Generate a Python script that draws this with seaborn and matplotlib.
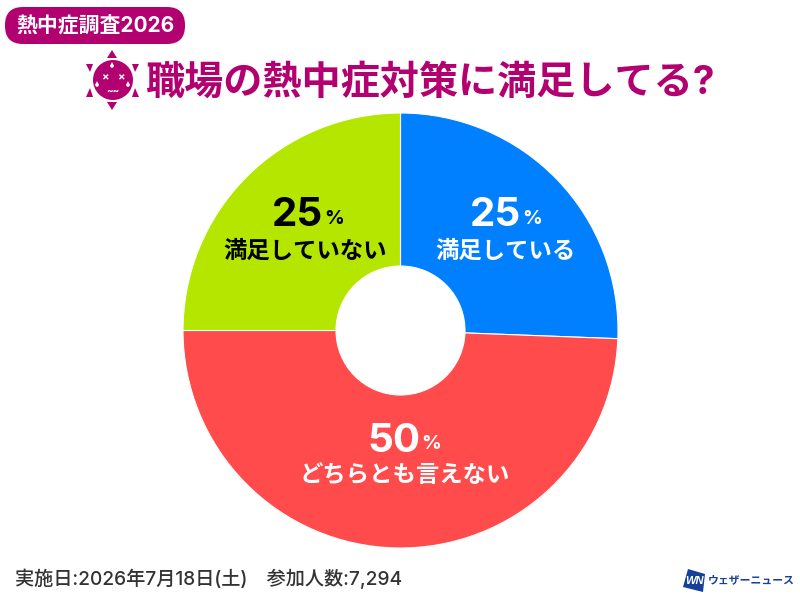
import matplotlib
matplotlib.use('Agg')
import matplotlib.pyplot as plt
import seaborn as sns
from matplotlib.patches import Circle, FancyBboxPatch, Polygon

# 調査結果
labels = ['満足している', 'どちらとも言えない', '満足していない']
shares = [25.6, 49.4, 25.0]
percent_labels = ['25', '50', '25']
colors = ['#0080ff', '#ff4b4b', '#b4e600']
label_colors = ['white', 'white', 'black']

badge_text = '熱中症調査2026'
title_text = '職場の熱中症対策に満足してる?'
footer_text = '実施日:2026年7月18日(土)\u3000参加人数:7,294'
brand_text = 'ウェザーニュース'

MAGENTA = '#b20070'
NAVY = '#17409a'
LATIN_CJK = ['Inter', 'Noto Sans CJK JP', 'DejaVu Sans']

sns.set_theme(style='white')
plt.rcParams['font.family'] = ['Noto Sans CJK JP', 'DejaVu Sans']

fig = plt.figure(figsize=(8, 6), dpi=100)
ax = fig.add_axes([0, 0, 1, 1])

# ドーナツ
ax.pie(shares, colors=sns.color_palette(colors), startangle=90, counterclock=False,
       center=(400.5, 269.5), radius=217.5, frame=True,
       wedgeprops={'width': 153, 'linewidth': 0.8, 'edgecolor': 'white'})
ax.set_xlim(0, 800)
ax.set_ylim(0, 600)
ax.set_aspect('equal')
ax.axis('off')

# 割合とラベル
digit_pos = [(495, 384), (394, 159), (297, 384)]
name_pos = [(505, 349), (405, 124), (305, 349)]
for i in range(len(labels)):
    x, y = digit_pos[i]
    ax.text(x, y, percent_labels[i], color=label_colors[i], fontsize=29, fontweight='bold',
            fontfamily='Inter', ha='center', va='center')
    ax.text(x + 37, y - 3, '%', color=label_colors[i], fontsize=14, fontweight='bold',
            fontfamily='Inter', ha='center', va='center')
    x, y = name_pos[i]
    ax.text(x, y, labels[i], color=label_colors[i], fontsize=16.8, fontweight='bold',
            ha='center', va='center')

# バッジ
ax.add_patch(FancyBboxPatch((5, 556), 180, 37, boxstyle='round,pad=0,rounding_size=18',
                            fc=MAGENTA, ec='none'))
ax.text(95, 574.5, badge_text, color='white', fontsize=15, fontweight='bold',
        fontfamily=LATIN_CJK, ha='center', va='center')

# タイトル
ax.text(430, 517, title_text, color=MAGENTA, fontsize=28.2, fontweight='bold',
        fontfamily=LATIN_CJK, ha='center', va='center')

# 太陽アイコン
ax.add_patch(Circle((113, 520), 20, fc=MAGENTA, ec='none'))
for pts in [[(112, 550), (107, 542), (117, 542)], [(112, 490), (107, 498), (117, 498)],
            [(86, 536), (93, 536), (90, 528)], [(139, 536), (132, 536), (135, 528)],
            [(86, 503), (93, 503), (90, 512)], [(139, 503), (132, 503), (135, 512)]]:
    ax.add_patch(Polygon(pts, fc=MAGENTA, ec='none'))
for x in (104.5, 120.5):
    ax.text(x, 524, '×', color='white', fontsize=8, fontweight='bold', fontfamily='Inter',
            ha='center', va='center_baseline')
ax.text(113, 510, '~~', color='white', fontsize=7, fontweight='bold', fontfamily='Inter',
        ha='center', va='center_baseline')
# 汗のしずく
for x, y in [(112, 534), (97, 515), (128, 515)]:
    ax.add_patch(Circle((x, y), 1.8, fc='white', ec='none'))
    ax.add_patch(Polygon([(x - 1.7, y + 0.5), (x + 1.7, y + 0.5), (x, y + 4)], fc='white', ec='none'))

# フッター
ax.text(15, 21, footer_text, color='#333333', fontsize=13.8, fontweight='medium',
        fontfamily=LATIN_CJK, ha='left', va='center')

# ロゴ
ax.add_patch(Polygon([(688, 31), (705, 26), (703, 8), (683, 13)], fc=NAVY, ec='none'))
ax.text(694, 19, 'WN', color='white', fontsize=8, fontweight='bold', style='italic',
        fontfamily='Liberation Sans', ha='center', va='center')
ax.text(708, 20, brand_text, color=NAVY, fontsize=7.8, fontweight='bold', ha='left', va='center')

fig.savefig('out.png', dpi=100)
